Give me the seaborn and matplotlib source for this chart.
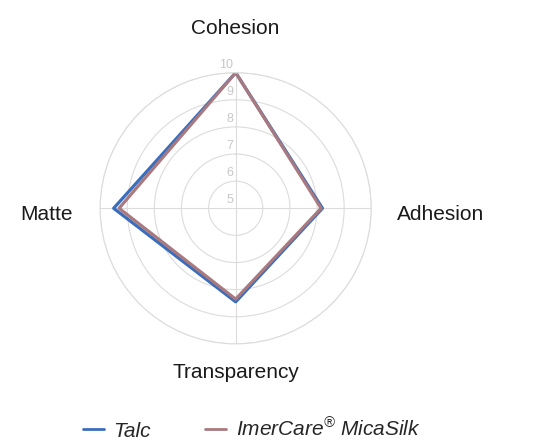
import numpy as np
import pandas as pd
import matplotlib
matplotlib.use("Agg")
import matplotlib.pyplot as plt
import matplotlib.transforms as mtransforms
import seaborn as sns

# --- data ---
categories = ["Cohesion", "Adhesion", "Transparency", "Matte"]
talc = [10.0, 8.2, 8.45, 9.5]
micasilk = [10.0, 8.15, 8.35, 9.3]
series_names = ["Talc", "ImerCare$^{®}$ MicaSilk"]
r_ticks = [5, 6, 7, 8, 9, 10]

colors = ["#3a6dbb", "#a8797e"]

sns.set_theme(style="white")
plt.rcParams["font.family"] = ["Liberation Sans", "DejaVu Sans"]
plt.rcParams["mathtext.fontset"] = "custom"
plt.rcParams["mathtext.rm"] = "Liberation Sans:italic"
plt.rcParams["mathtext.it"] = "Liberation Sans:italic"

angles = np.linspace(0, 2 * np.pi, len(categories), endpoint=False)

rows = []
for name, vals in zip(series_names, [talc, micasilk]):
    closed = list(vals) + [vals[0]]
    theta = list(angles) + [angles[0] + 2 * np.pi]
    for i, (t, v) in enumerate(zip(theta, closed)):
        rows.append({"series": name, "order": i, "theta": t, "value": v})
df = pd.DataFrame(rows)

fig = plt.figure(figsize=(5.36, 4.47), dpi=100)
ax = fig.add_axes([0.1867, 0.2307, 0.506, 0.6067], projection="polar")
ax.set_theta_offset(np.pi / 2)
ax.set_theta_direction(-1)

sns.lineplot(data=df, x="theta", y="value", hue="series", sort=False,
             estimator=None, palette=colors, linewidth=2.3, ax=ax,
             legend=False)

ax.set_ylim(5, 10)
ax.set_yticks(r_ticks)
ax.set_yticklabels([])
ax.set_xticks(angles)
ax.set_xticklabels([])
ax.grid(True, color="#dcdcdc", linewidth=0.8)
ax.spines["polar"].set_color("#dcdcdc")
ax.spines["polar"].set_linewidth(0.8)
ax.set_xlabel("")
ax.set_ylabel("")

# radial tick labels, just left of the top spoke
off = mtransforms.offset_copy(ax.transData, fig=fig, x=-2.5, y=2, units="dots")
for v in r_ticks:
    ax.text(0, v, str(v), transform=off, ha="right", va="bottom",
            fontsize=9, color="#c8c8c8")

# category labels
label_r = [11.73, 12.54, 11.0, 11.96]
label_dy = [-3, -6, -2, -6]
for ang, lab, rr, dy in zip(angles, categories, label_r, label_dy):
    tr = mtransforms.offset_copy(ax.transData, fig=fig, x=0, y=dy, units="dots")
    ax.text(ang, rr, lab, transform=tr, ha="center", va="center",
            fontsize=15, color="#1a1a1a", clip_on=False)

handles = [plt.Line2D([], [], color=c, linewidth=2) for c in colors]
fig.legend(handles, series_names, loc="center", bbox_to_anchor=(0.47, 0.04),
           ncol=2, frameon=False, handlelength=1.0, handletextpad=0.45,
           columnspacing=2.6, prop={"size": 15, "style": "italic"})

fig.savefig("out.png", dpi=100)
